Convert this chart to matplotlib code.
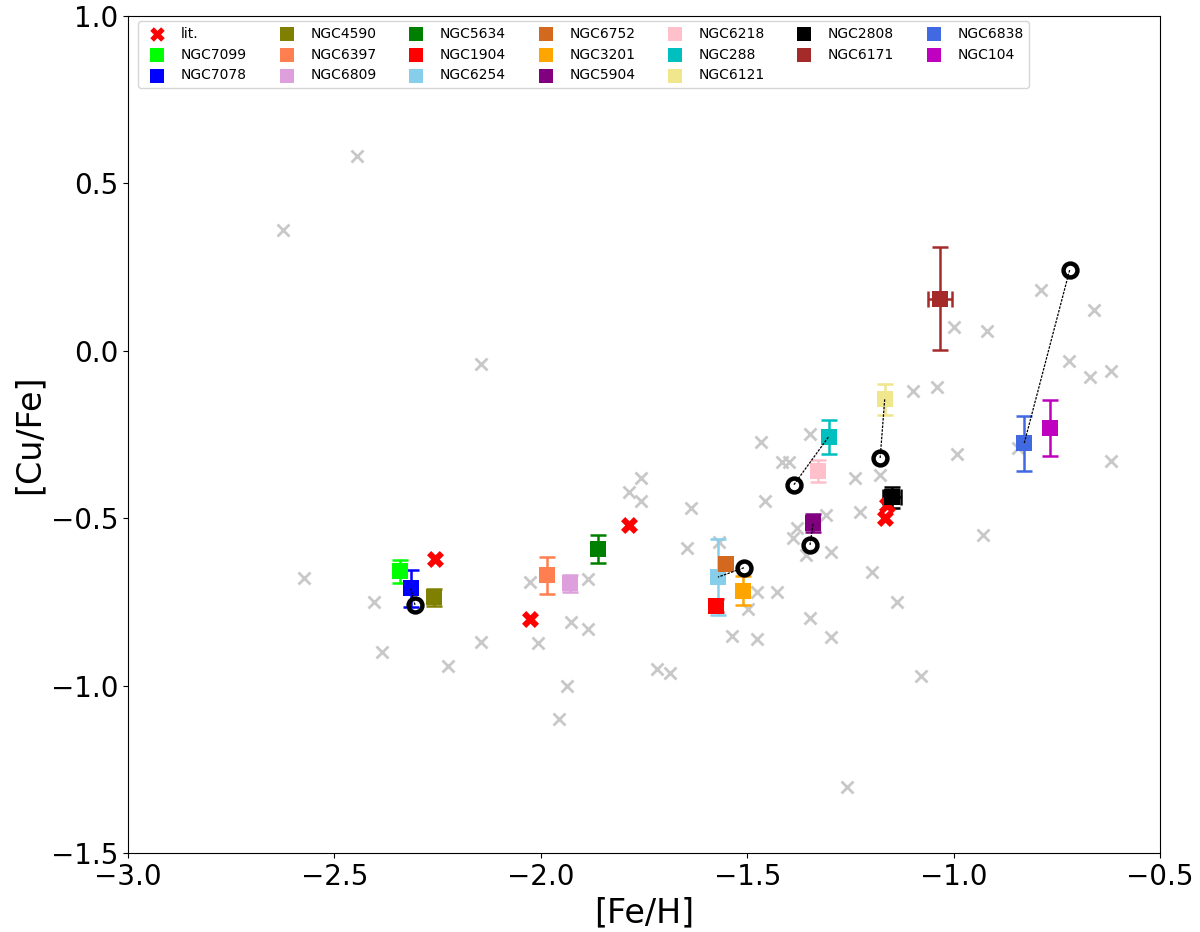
import matplotlib
matplotlib.use("Agg")
import matplotlib.pyplot as plt
import numpy as np

# ---- data ----
clusters = ['NGC7099', 'NGC7078', 'NGC4590', 'NGC6397', 'NGC6809', 'NGC5634',
            'NGC1904', 'NGC6254', 'NGC6752', 'NGC3201', 'NGC5904', 'NGC6218',
            'NGC288', 'NGC6121', 'NGC2808', 'NGC6171', 'NGC6838', 'NGC104']
colors = ['lime', 'blue', 'olive', 'coral', 'plum', 'green',
          'red', 'skyblue', 'chocolate', 'orange', 'purple', 'pink',
          'c', 'khaki', 'black', 'brown', 'royalblue', 'm']
feh = [-2.341, -2.315, -2.260, -1.986, -1.929, -1.862,
       -1.575, -1.571, -1.552, -1.511, -1.340, -1.328,
       -1.303, -1.167, -1.149, -1.033, -0.829, -0.766]
cufe = [-0.659, -0.710, -0.736, -0.671, -0.695, -0.593,
        -0.761, -0.676, -0.636, -0.716, -0.513, -0.360,
        -0.257, -0.145, -0.438, 0.156, -0.276, -0.230]
cufe_err = [0.035, 0.055, 0.025, 0.055, 0.026, 0.042,
            0.020, 0.113, 0.0, 0.044, 0.027, 0.033,
            0.050, 0.047, 0.032, 0.153, 0.082, 0.083]
feh_err = [0, 0, 0, 0, 0, 0,
           0, 0, 0, 0, 0, 0,
           0, 0, 0.022, 0.028, 0, 0]

# literature GC values (red X)
feh_lit = [-2.256, -2.026, -1.787, -1.167, -1.161]
cufe_lit = [-0.621, -0.801, -0.521, -0.499, -0.461]

# previous determinations (open circles) and the cluster each links to
feh_prev = [-2.305, -1.508, -1.387, -1.348, -1.178, -0.719]
cufe_prev = [-0.759, -0.648, -0.400, -0.580, -0.320, 0.241]
prev_link = ['NGC7078', 'NGC6254', 'NGC288', 'NGC5904', 'NGC6121', 'NGC6838']

# field stars (gray crosses)
feh_field = [-2.445, -2.624, -2.146, -2.574, -2.405, -2.385, -2.226, -2.146,
             -2.026, -2.006, -1.927, -1.886, -1.886, -1.937, -1.957, -1.719,
             -1.687, -1.757, -1.786, -1.757, -1.637, -1.647, -1.568, -1.538,
             -1.477, -1.477, -1.428, -1.497, -1.467, -1.458, -1.416, -1.398,
             -1.348, -1.238, -1.178, -1.308, -1.228, -1.379, -1.388, -1.358,
             -1.298, -1.198, -1.138, -1.348, -1.298, -1.079, -1.258, -1.098,
             -1.040, -0.999, -0.918, -0.789, -0.659, -0.720, -0.670, -0.620,
             -0.620, -0.991, -0.930, -0.843]
cufe_field = [0.582, 0.362, -0.039, -0.680, -0.751, -0.901, -0.941, -0.870,
              -0.690, -0.872, -0.811, -0.831, -0.681, -1.000, -1.101, -0.951,
              -0.961, -0.379, -0.421, -0.450, -0.470, -0.590, -0.570, -0.851,
              -0.861, -0.719, -0.720, -0.772, -0.272, -0.450, -0.331, -0.331,
              -0.249, -0.380, -0.370, -0.490, -0.481, -0.530, -0.560, -0.610,
              -0.600, -0.660, -0.749, -0.799, -0.854, -0.971, -1.302, -0.119,
              -0.108, 0.071, 0.060, 0.182, 0.122, -0.030, -0.079, -0.059,
              -0.330, -0.309, -0.550, -0.291]

# ---- figure ----
fig = plt.figure(figsize=(12, 9.32), dpi=100)
ax = fig.add_axes([0.1067, 0.0848, 0.86, 0.898])

ax.plot(feh_field, cufe_field, linestyle='none', marker='x', color='#c8c8c8',
        markersize=8, markeredgewidth=2, zorder=1)

# connecting dotted lines
for fp, cp, name in zip(feh_prev, cufe_prev, prev_link):
    i = clusters.index(name)
    ax.plot([fp, feh[i]], [cp, cufe[i]], linestyle=(0, (2, 1)), color='k',
            linewidth=0.9, zorder=4)

handles = []
lit_h = ax.scatter(feh_lit, cufe_lit, marker='X', color='red', s=150,
                   zorder=3, label='lit.', linewidths=0)
handles.append(lit_h)

for x, y, ye, xe, c, name in zip(feh, cufe, cufe_err, feh_err, colors, clusters):
    ax.errorbar(x, y, yerr=ye if ye > 0 else None, xerr=xe if xe > 0 else None,
                fmt='none', ecolor=c, elinewidth=1.8, capsize=6, capthick=1.8,
                zorder=2)
    h = ax.scatter([x], [y], marker='s', color=c, s=125, zorder=3, label=name,
                   linewidths=0)
    handles.append(h)

ax.plot(feh_prev, cufe_prev, linestyle='none', marker='o', markersize=10,
        markerfacecolor='none', markeredgecolor='k', markeredgewidth=3.2,
        zorder=5)

ax.set_xlim(-3.0, -0.5)
ax.set_ylim(-1.5, 1.0)
ax.set_xticks(np.arange(-3.0, -0.49, 0.5))
ax.set_yticks(np.arange(-1.5, 1.01, 0.5))
ax.tick_params(labelsize=20)
ax.set_xlabel('[Fe/H]', fontsize=24)
ax.set_ylabel('[Cu/Fe]', fontsize=24)

ax.legend(handles=handles, loc='upper left', ncol=7, fontsize=10,
          markerscale=0.85, handletextpad=0.7, columnspacing=1.85,
          borderaxespad=0.0, bbox_to_anchor=(10 / 1032, 1 - 5 / 837))

fig.savefig('out.png', dpi=100)
